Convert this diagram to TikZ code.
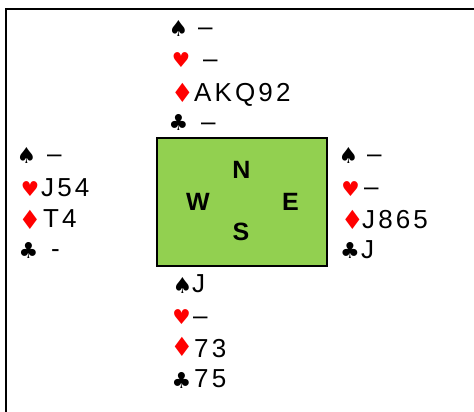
\documentclass[tikz,border=0pt]{standalone}
\usepackage{fontspec}
\usepackage{graphicx}
\setmainfont{Liberation Sans}
\newfontfamily\cardfont[LetterSpace=12]{Liberation Sans}
\newfontfamily\suitfont{DejaVu Sans}
\newcommand\mydiamond{\scalebox{1.15}[1.2]{♦}}
\definecolor{tablegreen}{RGB}{146,208,80}
\tikzset{
  hand/.style={anchor=base west, inner sep=0pt, font=\cardfont\fontsize{26}{30}\selectfont},
  suitb/.style={inner sep=0pt, font=\suitfont\fontsize{22}{26}\selectfont},
  suitr/.style={suitb, text=red},
  suith/.style={suitr, font=\suitfont\fontsize{20.5}{24}\selectfont},
  dir/.style={inner sep=0pt, font=\bfseries\fontsize{25}{30}\selectfont},
  frame/.style={line width=2pt, line cap=rect},
}
\begin{document}
\begin{tikzpicture}[x=1pt,y=-1pt]
\useasboundingbox (0,0) rectangle (474,412);
% frame (top and left only)
\coordinate (tl) at (6,9);
\coordinate (tr) at (474,9);
\coordinate (bl) at (6,412);
\draw[frame] (tr) -- (tl) -- (bl);
% table
\node[draw, line width=2pt, fill=tablegreen, minimum width=169.7pt, minimum height=128pt, inner sep=0pt] (table) at (241.85,201.7) {};
\node[dir] (N) at (241.5,170) {N};
\node[dir] (W) at (198,201.5) {W};
\node[dir] (E) at (290.5,201.5) {E};
\node[dir] (S) at (241,231.5) {S};
% North
\node[suitb] (nS) at (178.5,28) {♠};
\node[hand] (nSt) at (198,35.5) {–};
\node[suith] (nH) at (181,60.5) {♥};
\node[hand] (nHt) at (203,67.5) {–};
\node[suitr] (nD) at (182.5,92.5) {\mydiamond};
\node[hand] (nDt) at (194,101) {AKQ92};
\node[suitb] (nC) at (178.5,122.5) {♣};
\node[hand] (nCt) at (201,130.5) {–};
% West
\node[suitb] (wS) at (26.5,155.5) {♠};
\node[hand] (wSt) at (47,162.5) {–};
\node[suith] (wH) at (30,189.5) {♥};
\node[hand] (wHt) at (41,196) {J54};
\node[suitr] (wD) at (30,220) {\mydiamond};
\node[hand] (wDt) at (43,227) {T4};
\node[suitb] (wC) at (28.5,250) {♣};
\node[hand] (wCt) at (51,257.5) {-};
% East
\node[suitb] (eS) at (348.5,155.5) {♠};
\node[hand] (eSt) at (367,162.5) {–};
\node[suith] (eH) at (350.5,189.5) {♥};
\node[hand] (eHt) at (364,195.5) {–};
\node[suitr] (eD) at (352.5,220) {\mydiamond};
\node[hand] (eDt) at (362,228) {J865};
\node[suitb] (eC) at (350,250) {♣};
\node[hand] (eCt) at (361,258) {J};
% South
\node[suitb] (sS) at (182.5,285) {♠};
\node[hand] (sSt) at (192,292) {J};
\node[suith] (sH) at (181.5,317.5) {♥};
\node[hand] (sHt) at (193,324.5) {–};
\node[suitr] (sD) at (182,346.5) {\mydiamond};
\node[hand] (sDt) at (194,357) {73};
\node[suitb] (sC) at (181.5,380) {♣};
\node[hand] (sCt) at (194,387) {75};
\end{tikzpicture}
\end{document}
